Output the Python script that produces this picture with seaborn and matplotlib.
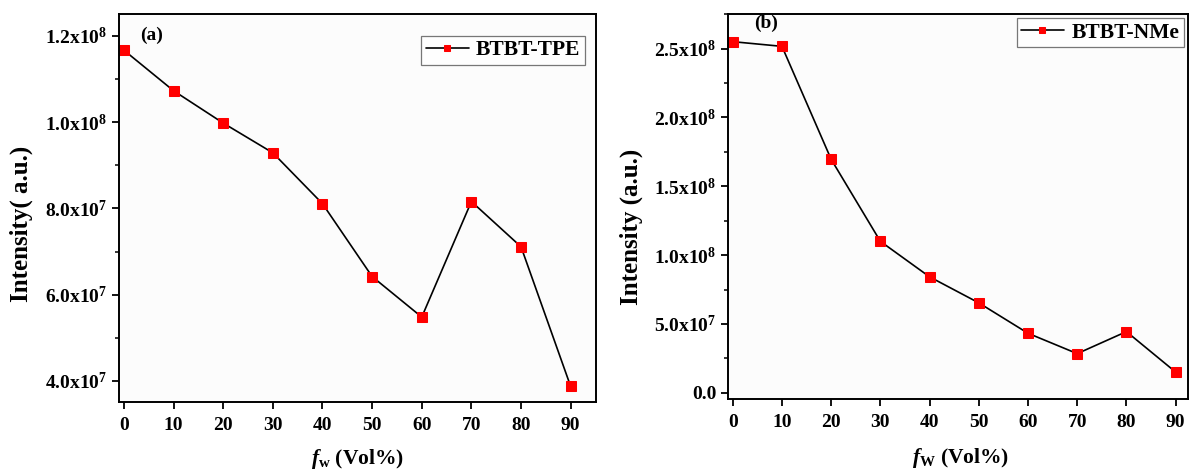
import matplotlib
matplotlib.use("Agg")
import matplotlib.pyplot as plt
from matplotlib.ticker import FuncFormatter, MultipleLocator, AutoMinorLocator
import numpy as np
import pandas as pd
import seaborn as sns

# Water fraction (vol%) and emission intensity for the two compounds
fw = [0, 10, 20, 30, 40, 50, 60, 70, 80, 90]
tpe_intensity = [1.167e8, 1.073e8, 0.998e8, 9.29e7, 8.11e7, 6.42e7, 5.48e7, 8.16e7, 7.11e7, 3.87e7]
nme_intensity = [2.551e8, 2.517e8, 1.696e8, 1.10e8, 8.42e7, 6.53e7, 4.32e7, 2.84e7, 4.44e7, 1.50e7]

tpe_label = "BTBT-TPE"
nme_label = "BTBT-NMe"

sns.set_theme(style="ticks")
plt.rcParams["font.family"] = ["Liberation Serif", "DejaVu Serif"]
plt.rcParams["font.weight"] = "bold"
plt.rcParams["text.color"] = "black"
plt.rcParams["axes.labelcolor"] = "black"
plt.rcParams["xtick.color"] = "black"
plt.rcParams["ytick.color"] = "black"
plt.rcParams["mathtext.fontset"] = "custom"
plt.rcParams["mathtext.rm"] = "Liberation Serif:bold"
plt.rcParams["mathtext.bf"] = "Liberation Serif:bold"
plt.rcParams["mathtext.it"] = "Liberation Serif:bold:italic"


def sci_fmt(v, pos):
    if abs(v) < 1e-9:
        return "0.0"
    e = int(np.floor(np.log10(abs(v))))
    m = v / 10 ** e
    return f"{m:.1f}x10$^{{{e}}}$"


def style_axes(ax, ymajor):
    ax.set_facecolor("#fcfcfc")
    for s in ax.spines.values():
        s.set_linewidth(1.4)
        s.set_color("black")
    ax.xaxis.set_major_locator(MultipleLocator(10))
    ax.yaxis.set_major_locator(MultipleLocator(ymajor))
    ax.yaxis.set_minor_locator(AutoMinorLocator(2))
    ax.yaxis.set_major_formatter(FuncFormatter(sci_fmt))
    ax.tick_params(axis="both", which="major", direction="out", length=5, width=1.3,
                   labelsize=14, colors="black", top=False, right=False)
    ax.tick_params(axis="x", which="major", pad=6)
    ax.tick_params(axis="y", which="minor", direction="out", length=3, width=1.1, right=False)
    for lab in ax.get_xticklabels() + ax.get_yticklabels():
        lab.set_fontweight("bold")


fig = plt.figure(figsize=(11.92, 4.75), dpi=100)
fig.patch.set_facecolor("white")

line_kw = dict(color="black", linewidth=1.2, marker="s", markersize=6.5,
               markerfacecolor="red", markeredgecolor="red")
legend_font = {"family": "Liberation Serif", "weight": "bold", "size": 15.5}

# Panel (a)
ax1 = fig.add_axes([0.0998, 0.1537, 0.4002, 0.8168])
df_a = pd.DataFrame({"fw": fw, "I": tpe_intensity})
sns.lineplot(data=df_a, x="fw", y="I", ax=ax1, label=tpe_label, **line_kw)
ax1.set_xlim(-1.0, 95.1)
ax1.set_ylim(3.51e7, 1.251e8)
style_axes(ax1, 2e7)
ax1.set_xlabel(r"$\mathit{f}_{\mathrm{w}}$ (Vol%)", fontsize=15.5, fontweight="bold")
ax1.xaxis.set_label_coords(0.5, -0.115)
ax1.set_ylabel("Intensity( a.u.)", fontsize=18, fontweight="bold")
ax1.yaxis.set_label_coords(-0.18, 0.46)
ax1.text(0.044, 0.945, "(a)", transform=ax1.transAxes, fontsize=14, fontweight="bold",
         ha="left", va="center")
leg1 = ax1.legend(loc="upper right", bbox_to_anchor=(0.99, 0.96), frameon=True, fancybox=False,
                  prop=legend_font, markerscale=0.75,
                  handlelength=2.0, handletextpad=0.35, borderpad=0.2, borderaxespad=0.3)
leg1.get_frame().set_edgecolor("#555555")
leg1.get_frame().set_linewidth(0.9)

# Panel (b)
ax2 = fig.add_axes([0.611, 0.1606, 0.3856, 0.8099])
df_b = pd.DataFrame({"fw": fw, "I": nme_intensity})
sns.lineplot(data=df_b, x="fw", y="I", ax=ax2, label=nme_label, **line_kw)
ax2.set_xlim(-0.9, 92.5)
ax2.set_ylim(-0.436e7, 2.752e8)
style_axes(ax2, 5e7)
ax2.set_xlabel(r"$\mathit{f}_{\mathrm{W}}$ (Vol%)", fontsize=15.5, fontweight="bold")
ax2.xaxis.set_label_coords(0.505, -0.122)
ax2.set_ylabel("Intensity (a.u.)", fontsize=18, fontweight="bold")
ax2.yaxis.set_label_coords(-0.186, 0.446)
ax2.text(0.056, 0.975, "(b)", transform=ax2.transAxes, fontsize=14, fontweight="bold",
         ha="left", va="center")
leg2 = ax2.legend(loc="upper right", bbox_to_anchor=(1.0, 1.0), frameon=True, fancybox=False,
                  prop=legend_font, markerscale=0.75,
                  handlelength=2.0, handletextpad=0.35, borderpad=0.2, borderaxespad=0.2)
leg2.get_frame().set_edgecolor("#555555")
leg2.get_frame().set_linewidth(0.9)

fig.savefig("out.png", dpi=100, facecolor=fig.get_facecolor())
